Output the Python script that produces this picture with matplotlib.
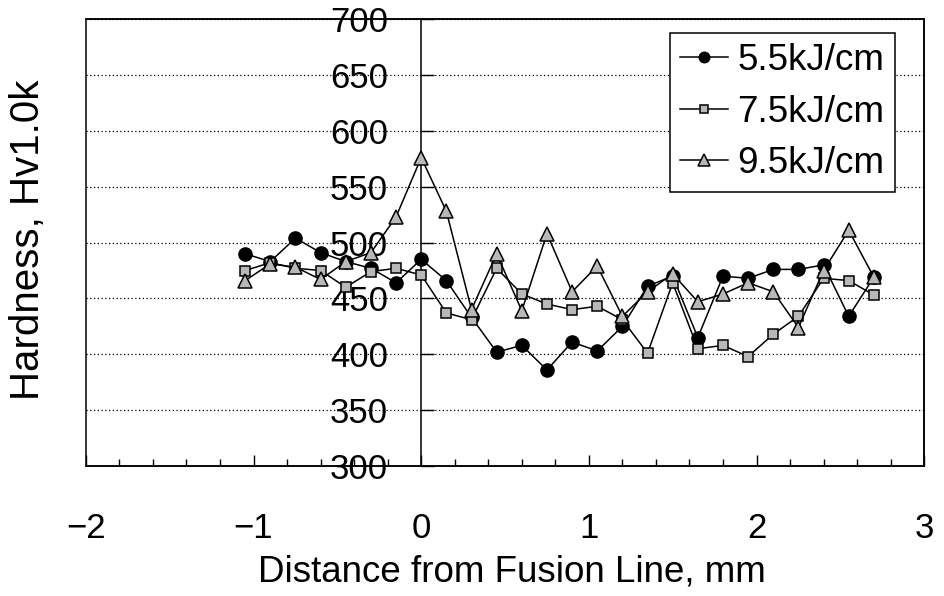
import matplotlib
matplotlib.use('Agg')
from matplotlib import pyplot as plt
from matplotlib.ticker import MultipleLocator

plt.rcParams['font.family'] = ['Liberation Sans', 'DejaVu Sans']

# distance from fusion line, mm
distance = [-1.05, -0.9, -0.75, -0.6, -0.45, -0.3, -0.15, 0.0, 0.15, 0.3,
            0.45, 0.6, 0.75, 0.9, 1.05, 1.2, 1.35, 1.5, 1.65, 1.8,
            1.95, 2.1, 2.25, 2.4, 2.55, 2.7]

# hardness Hv1.0k for each heat input
hv_55 = [490, 483, 504, 491, 483, 477, 464, 485, 466, 433,
         402, 408, 386, 411, 403, 425, 461, 470, 415, 470,
         468, 476, 476, 480, 434, 469]
hv_75 = [475, 482, 477, 475, 460, 474, 477, 471, 437, 431,
         477, 454, 445, 440, 443, 431, 401, 464, 405, 408,
         398, 418, 434, 468, 466, 453]
hv_95 = [466, 481, 478, 467, 483, 491, 523, 576, 528, 440,
         490, 439, 508, 456, 479, 434, 456, 472, 447, 454,
         464, 456, 424, 475, 511, 469]

labels = ['5.5kJ/cm', '7.5kJ/cm', '9.5kJ/cm']
x_ticks = [-2, -1, 0, 1, 2, 3]
y_ticks = [300, 350, 400, 450, 500, 550, 600, 650, 700]

FS = 25

fig = plt.figure(figsize=(9.44, 5.96), dpi=100)
ax = fig.add_axes([0.091, 0.218, 0.888, 0.75])

ax.plot(distance, hv_55, color='black', lw=1.1, marker='o', ms=9.5,
        mfc='black', mec='black', label=labels[0], zorder=3)
ax.plot(distance, hv_75, color='black', lw=1.1, marker='s', ms=7.5,
        mfc='0.72', mec='black', mew=1.1, label=labels[1], zorder=3)
ax.plot(distance, hv_95, color='black', lw=1.1, marker='^', ms=10,
        mfc='0.72', mec='black', mew=1.1, label=labels[2], zorder=3)

ax.set_xlim(-2, 3)
ax.set_ylim(300, 700)

# y axis sits on the fusion line, frame drawn by the axes patch
ax.spines['left'].set_position(('data', 0))
for side in ['left', 'top', 'right', 'bottom']:
    ax.spines[side].set_linewidth(1.1)
ax.patch.set_edgecolor('black')
ax.patch.set_linewidth(1.1)

ax.set_xticks(x_ticks)
ax.xaxis.set_minor_locator(MultipleLocator(0.2))
ax.set_yticks(y_ticks)

ax.tick_params(axis='x', which='major', direction='in', length=8, width=1,
               pad=33, labelsize=FS)
ax.tick_params(axis='x', which='minor', direction='in', length=5, width=1)
ax.tick_params(axis='y', which='major', direction='in', length=9, width=1,
               pad=24, labelsize=FS)

ax.yaxis.grid(True, linestyle=(0, (1, 2)), color='black', linewidth=0.9)
ax.set_axisbelow(True)

ax.set_xlabel('Distance from Fusion Line, mm', fontsize=26.5)
ax.xaxis.set_label_coords(0.508, -0.197)
fig.text(0.03, 0.597, 'Hardness, Hv1.0k', rotation=90, fontsize=29,
         ha='center', va='center')

leg = ax.legend(loc='upper right', bbox_to_anchor=(0.965, 0.969),
                prop={'size': 26.5}, handlelength=1.3, handletextpad=0.25,
                labelspacing=0.45, borderpad=0.28, borderaxespad=0,
                fancybox=False, edgecolor='black', framealpha=1,
                markerscale=0.8)
leg.get_frame().set_linewidth(1.1)

plt.savefig('out.png', dpi=100)
